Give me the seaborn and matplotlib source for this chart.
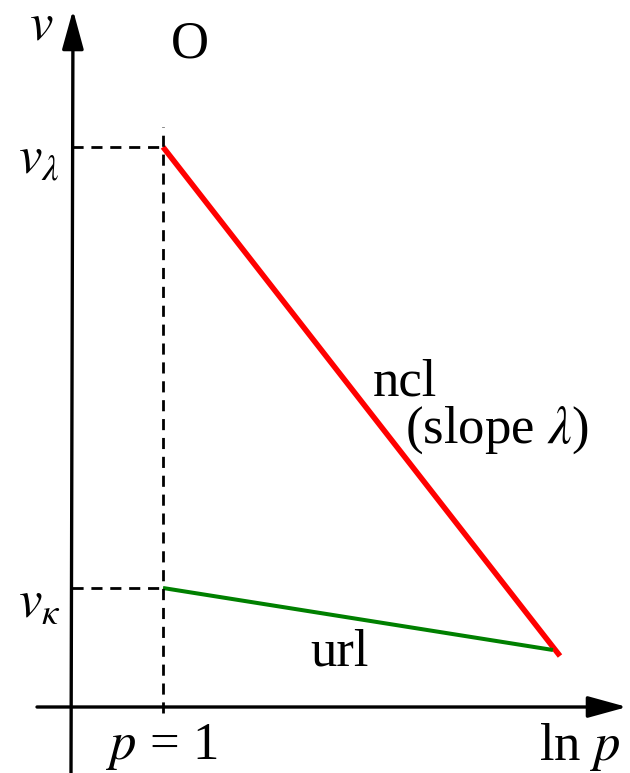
import matplotlib
matplotlib.use("Agg")
import matplotlib.pyplot as plt
import seaborn as sns
import pandas as pd

sns.set_theme(style="white")
plt.rcParams["font.family"] = ["Liberation Serif", "DejaVu Serif"]
plt.rcParams["mathtext.fontset"] = "stix"
plt.rcParams["text.color"] = "black"

# Schematic values: x = ln p (0 at p = 1), y = specific volume v
ln_p_start = 0.0
v_lambda = 5.60
v_kappa = 1.19
ncl_end = (3.97, 0.51)
url_end = (3.90, 0.57)

lines = pd.DataFrame({
    "ln_p": [ln_p_start, ncl_end[0], ln_p_start, url_end[0]],
    "v": [v_lambda, ncl_end[1], v_kappa, url_end[1]],
    "line": ["ncl", "ncl", "url", "url"],
})

fig = plt.figure(figsize=(6.3, 7.73), dpi=100)
ax = fig.add_axes([0, 0, 1, 1])
ax.set_xlim(-1.63, 4.67)
ax.set_ylim(-0.66, 7.07)
ax.axis("off")

sns.lineplot(data=lines[lines.line == "ncl"], x="ln_p", y="v", color="#ff0000",
             linewidth=4.0, ax=ax, legend=False, solid_capstyle="butt")
sns.lineplot(data=lines[lines.line == "url"], x="ln_p", y="v", color="#008000",
             linewidth=2.9, ax=ax, legend=False, solid_capstyle="butt")

# axes with arrowheads
y_axis_x = -0.91
head = "-|>,head_length=2.0,head_width=0.55"
ax.annotate("", xy=(y_axis_x + 0.01, 6.97), xytext=(y_axis_x - 0.01, -0.66),
            arrowprops=dict(arrowstyle=head, color="black", lw=2.4,
                            shrinkA=0, shrinkB=0))
ax.annotate("", xy=(4.64, 0.0), xytext=(-1.26, 0.0),
            arrowprops=dict(arrowstyle=head, color="black", lw=2.4,
                            shrinkA=0, shrinkB=0))

# dashed guides
dash = dict(color="black", lw=2.0, linestyle=(0, (4, 2.8)))
ax.plot([ln_p_start, ln_p_start], [-0.06, 5.80], **dash)
ax.plot([y_axis_x, ln_p_start], [v_lambda, v_lambda], **dash)
ax.plot([y_axis_x, ln_p_start], [v_kappa, v_kappa], **dash)

fs = 38
ax.text(-1.22, 6.80, r"$v$", fontsize=fs, ha="center", va="center")
ax.text(0.27, 6.62, "O", fontsize=fs, ha="center", va="center")
ax.text(-1.24, 5.47, r"$v_{\lambda}$", fontsize=fs, ha="center", va="center")
ax.text(-1.24, 1.03, r"$v_{\kappa}$", fontsize=fs, ha="center", va="center")
ax.text(-0.01, -0.40, r"$p$ = 1", fontsize=fs, ha="center", va="center")
ax.text(4.17, -0.40, r"ln $p$", fontsize=fs, ha="center", va="center")
ax.text(2.42, 3.25, "ncl", fontsize=fs, ha="center", va="center")
ax.text(3.34, 2.77, r"(slope $\lambda$)", fontsize=fs, ha="center", va="center")
ax.text(1.77, 0.54, "url", fontsize=fs, ha="center", va="center")

fig.savefig("out.png", dpi=100)
